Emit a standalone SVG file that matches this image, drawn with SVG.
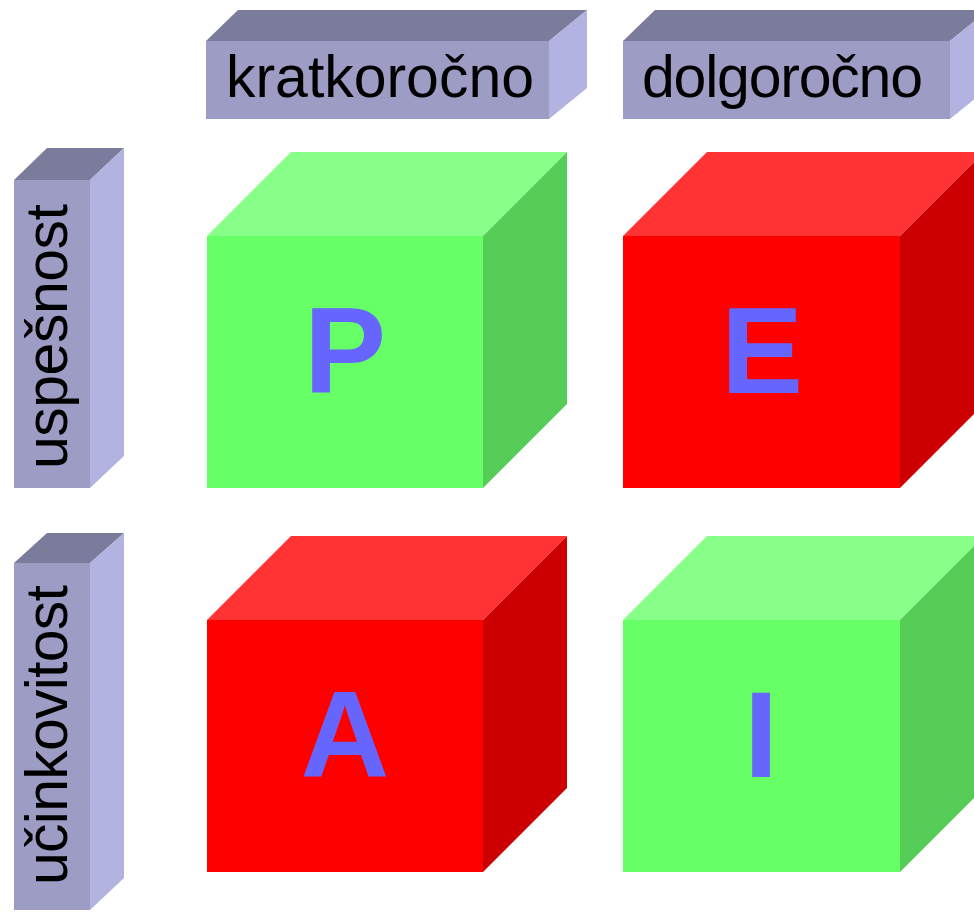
<svg xmlns="http://www.w3.org/2000/svg" width="974" height="912" viewBox="0 0 974 912">
<style>
.bf{fill:#9c9cc4}.bt{fill:#7b7b9b}.br{fill:#b3b3e2}
.gf{fill:#66ff66}.gt{fill:#88ff88}.gr{fill:#55cc55}
.rf{fill:#ff0000}.rt{fill:#ff3333}.rr{fill:#cc0000}
.lbl{font-family:"Liberation Sans",Arial,sans-serif;font-size:59px;fill:#000}
.let{font-family:"Liberation Sans",Arial,sans-serif;font-size:123px;font-weight:bold;fill:#6666ff;text-anchor:middle}
</style>
<rect width="974" height="912" fill="#ffffff"/>
<g id="hdr-kratkorocno">
<polygon class="bt" points="206,41 238,10 587,10 549,41"/>
<polygon class="br" points="549,41 587,10 587,88 549,119"/>
<rect class="bf" x="206" y="41" width="343" height="78"/>
<text class="lbl" x="226" y="97" textLength="308" lengthAdjust="spacing">kratkoročno</text>
</g>
<g id="hdr-dolgorocno">
<polygon class="bt" points="623,41 655,10 988,10 950,41"/>
<polygon class="br" points="950,41 988,10 988,88 950,119"/>
<rect class="bf" x="623" y="41" width="327" height="78"/>
<text class="lbl" x="642" y="97" textLength="281" lengthAdjust="spacing">dolgoročno</text>
</g>
<g id="side-uspesnost">
<polygon class="bt" points="14,180 47,148 124,148 90,180"/>
<polygon class="br" points="90,180 124,148 124,456 90,488"/>
<rect class="bf" x="14" y="180" width="76" height="308"/>
<text class="lbl" transform="translate(67,469) rotate(-90)" textLength="265" lengthAdjust="spacing">uspešnost</text>
</g>
<g id="side-ucinkovitost">
<polygon class="bt" points="14,563 47,533 124,533 90,563"/>
<polygon class="br" points="90,563 124,533 124,878 90,910"/>
<rect class="bf" x="14" y="563" width="76" height="347"/>
<text class="lbl" transform="translate(67,885) rotate(-90)" textLength="300" lengthAdjust="spacing">učinkovitost</text>
</g>
<g id="cube-P">
<polygon class="gt" points="207,236 291,152 567,152 483,236"/>
<polygon class="gr" points="483,236 567,152 567,404 483,488"/>
<rect class="gf" x="207" y="236" width="276" height="252"/>
<text class="let" x="345" y="393">P</text>
</g>
<g id="cube-E">
<polygon class="rt" points="623,236 707,152 984,152 900,236"/>
<polygon class="rr" points="900,236 984,152 984,404 900,488"/>
<rect class="rf" x="623" y="236" width="277" height="252"/>
<text class="let" x="762" y="393">E</text>
</g>
<g id="cube-A">
<polygon class="rt" points="207,620 291,536 567,536 483,620"/>
<polygon class="rr" points="483,620 567,536 567,788 483,872"/>
<rect class="rf" x="207" y="620" width="276" height="252"/>
<text class="let" x="345" y="777">A</text>
</g>
<g id="cube-I">
<polygon class="gt" points="623,620 707,536 984,536 900,620"/>
<polygon class="gr" points="900,620 984,536 984,788 900,872"/>
<rect class="gf" x="623" y="620" width="277" height="252"/>
<text class="let" x="761" y="777">I</text>
</g>
<g id="connectors"></g>
</svg>
